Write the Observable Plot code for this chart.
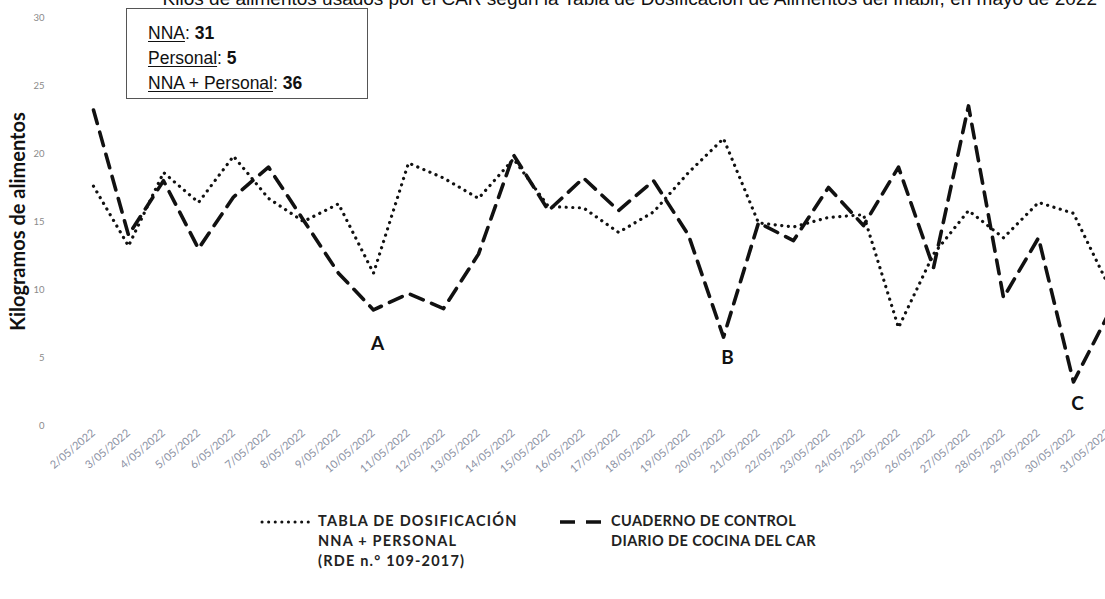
<!DOCTYPE html>
<html>
<head>
<meta charset="utf-8">
<script src="https://cdn.jsdelivr.net/npm/d3@7"></script>
<script src="https://cdn.jsdelivr.net/npm/@observablehq/plot@0.6"></script>
<style>
  html, body { margin: 0; padding: 0; background: #fff; overflow: hidden; }
  #wrap { position: relative; width: 1105px; height: 599px; overflow: hidden; }
  #title { position: absolute; top: -11px; right: 8px; font: 19px "Liberation Sans", Arial, sans-serif; color: #111; white-space: nowrap; line-height: 20px; z-index: 3; }
  #box { position: absolute; left: 126px; top: 8px; width: 240px; height: 89px; border: 1px solid #555; background: #fff; z-index: 3; font: 17.5px "Liberation Sans", Arial, sans-serif; color: #111; }
  #box div { position: absolute; left: 21px; line-height: 20px; }
  #box u { text-underline-offset: 2px; }
  #chart { position: absolute; left: 0; top: 0; }
  .leg { position: absolute; font: bold 14.5px Lato, "Open Sans", sans-serif; color: #222; line-height: 20px; }
  .sw { position: absolute; }
</style>
</head>
<body>
<div id="wrap">
  <div id="title">Kilos de alimentos usados por el CAR según la Tabla de Dosificación de Alimentos del Inabif, en mayo de 2022</div>
  <div id="chart"></div>
  <div id="box">
    <div style="top:14px"><u>NNA</u>: <b>31</b></div>
    <div style="top:39px"><u>Personal</u>: <b>5</b></div>
    <div style="top:64px"><u>NNA + Personal</u>: <b>36</b></div>
  </div>
  <svg class="sw" style="left:258px;top:512px" width="56" height="20"><line x1="4" y1="10" x2="52" y2="10" stroke="#111" stroke-width="3" stroke-dasharray="0.1 6.5" stroke-linecap="round"/></svg>
  <div class="leg" style="left:318px;top:511px;letter-spacing:1.2px">TABLA DE DOSIFICACIÓN<br>NNA + PERSONAL<br>(RDE n.° 109-2017)</div>
  <svg class="sw" style="left:556px;top:512px" width="50" height="20"><line x1="4" y1="10" x2="46" y2="10" stroke="#111" stroke-width="3.5" stroke-dasharray="15 11"/></svg>
  <div class="leg" style="left:611px;top:511px;letter-spacing:0.4px">CUADERNO DE CONTROL<br>DIARIO DE COCINA DEL CAR</div>
</div>
<script>
const fechas = ["2/05/2022","3/05/2022","4/05/2022","5/05/2022","6/05/2022","7/05/2022","8/05/2022","9/05/2022","10/05/2022","11/05/2022","12/05/2022","13/05/2022","14/05/2022","15/05/2022","16/05/2022","17/05/2022","18/05/2022","19/05/2022","20/05/2022","21/05/2022","22/05/2022","23/05/2022","24/05/2022","25/05/2022","26/05/2022","27/05/2022","28/05/2022","29/05/2022","30/05/2022","31/05/2022"];
const tablaDosificacion = [17.6,13.2,18.6,16.4,19.8,16.7,15.0,16.3,11.2,19.3,18.2,16.7,19.6,16.1,16.0,14.2,15.7,18.6,21.1,14.9,14.6,15.3,15.5,7.2,12.6,15.8,13.8,16.4,15.6,10.3];
const cuadernoControl = [23.2,14.0,18.0,13.0,16.8,19.0,15.1,11.2,8.5,9.7,8.6,12.6,19.9,15.8,18.2,15.8,18.0,14.0,6.5,14.9,13.6,17.5,14.7,19.0,11.6,23.5,9.4,13.8,3.2,8.2];
const yTicks = [0,5,10,15,20,25,30];
const anotTextos = ["A","B","C"];
const anotFechas = ["10/05/2022","20/05/2022","30/05/2022"];
const anotValores = [6.0,5.0,1.6];
const tituloY = "Kilogramos de alimentos";

const filasT = fechas.map((f,i) => ({fecha: f, kg: tablaDosificacion[i]}));
const filasC = fechas.map((f,i) => ({fecha: f, kg: cuadernoControl[i]}));
const filasA = anotTextos.map((t,i) => ({t, fecha: anotFechas[i], kg: anotValores[i]}));

const chart = Plot.plot({
  width: 1105, height: 505,
  marginLeft: 92, marginRight: 0, marginTop: 17, marginBottom: 80,
  style: {fontFamily: "Lato, 'Open Sans', sans-serif", background: "transparent"},
  x: {type: "point", domain: fechas, range: [92, 1109], padding: 0},
  y: {domain: [0, 30], range: [425, 17]},
  marks: [
    Plot.ruleY(yTicks, {x1: 60, x2: 1105, stroke: "#ececec", strokeWidth: 1}),
    Plot.axisY({ticks: yTicks, tickSize: 0, tickPadding: 48, fontSize: 9.5, fill: "#8a8a8a", label: null}),
    Plot.axisX({tickRotate: -40, tickSize: 0, tickPadding: 6, fontSize: 11, fill: "#8c92a4", label: null}),
    Plot.line(filasT, {x: "fecha", y: "kg", stroke: "#111", strokeWidth: 3.2, strokeDasharray: "0.1 6.5", strokeLinecap: "round", strokeLinejoin: "round"}),
    Plot.line(filasC, {x: "fecha", y: "kg", stroke: "#111", strokeWidth: 3.6, strokeDasharray: "14 9", strokeLinejoin: "round"}),
    Plot.text(filasA, {x: "fecha", y: "kg", text: "t", fontSize: 19, fontWeight: "bold", fill: "#111", dx: 4}),
    Plot.text([tituloY], {frameAnchor: "left", textAnchor: "middle", dx: -74, rotate: -90, fontSize: 20, fontWeight: "bold", fill: "#111"})
  ]
});
document.getElementById("chart").appendChild(chart);
</script>
</body>
</html>
